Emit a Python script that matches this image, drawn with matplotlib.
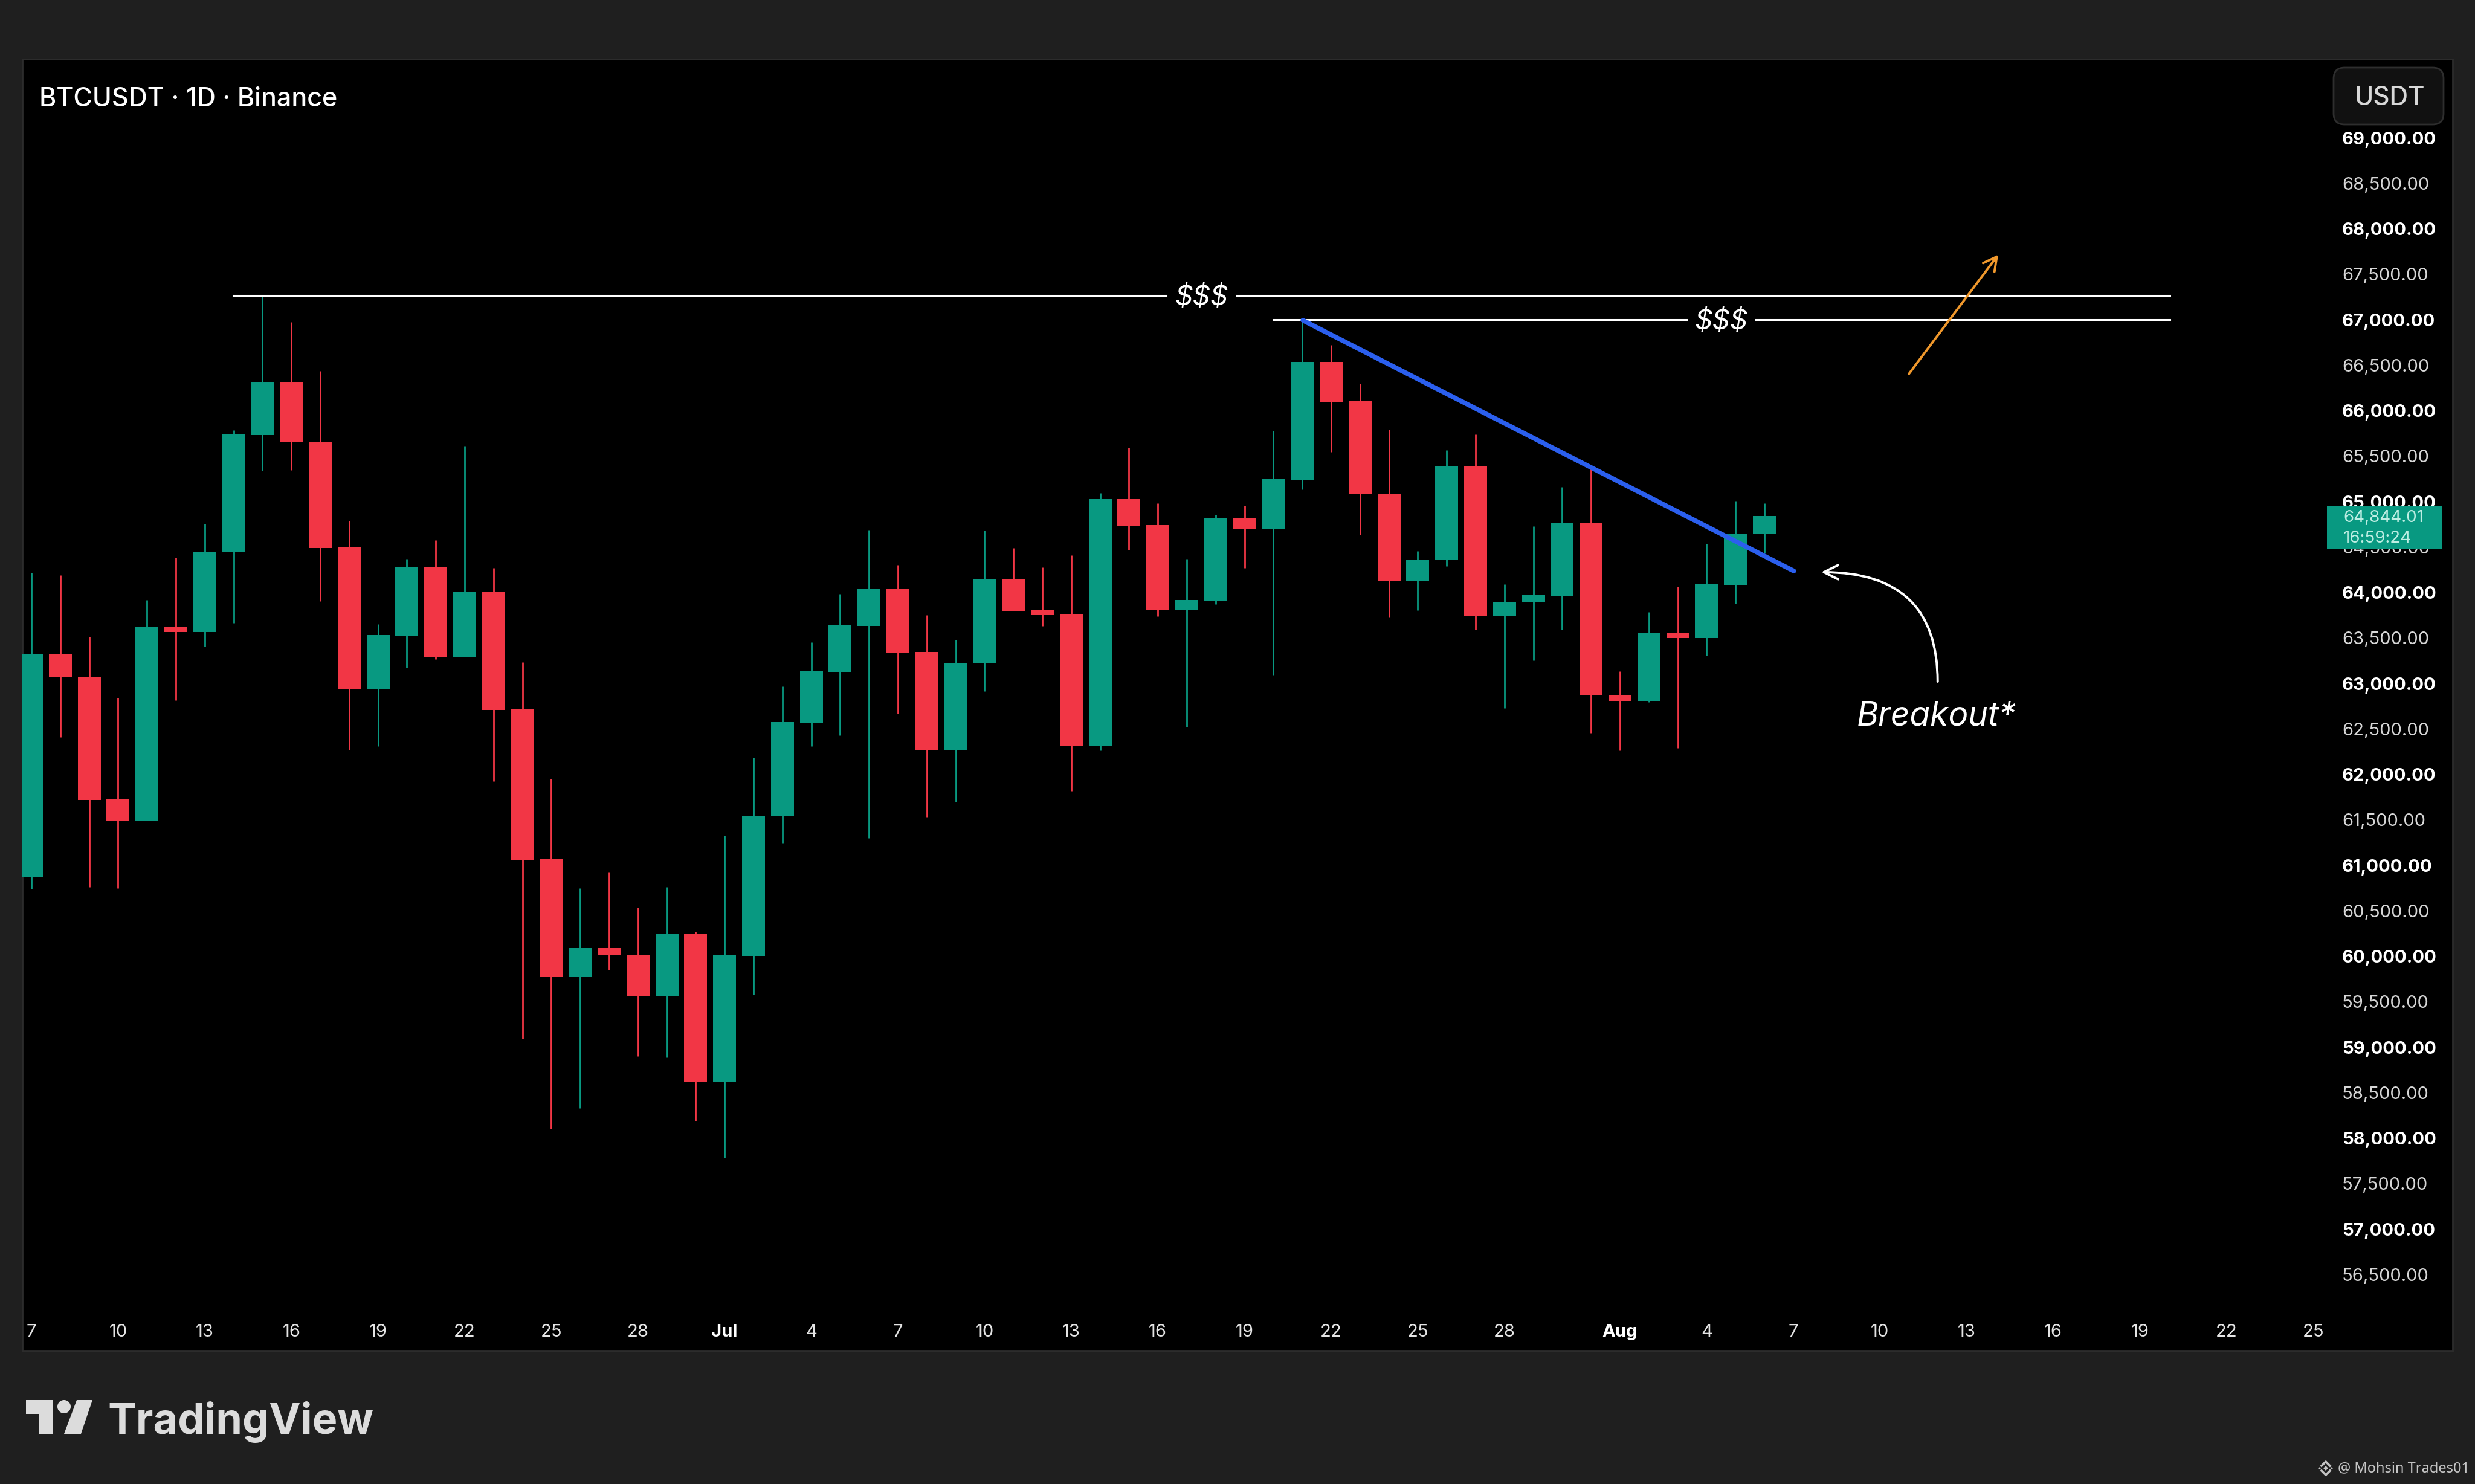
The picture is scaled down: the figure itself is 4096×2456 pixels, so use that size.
import numpy as np
import matplotlib
matplotlib.use('Agg')
import matplotlib.pyplot as plt
from matplotlib.patches import Polygon, Circle, FancyBboxPatch, Rectangle

# --------------- Data ---------------
opens = [60867, 63319, 63073, 61731, 61492, 63618, 63565, 64442, 65731, 66316,
         65658, 64495, 62940, 63525, 64282, 63292, 64003, 62718, 61066, 59771,
         60090, 60017, 59558, 60249, 58615, 60003, 61545, 62568, 63126, 63631,
         64037, 63346, 62263, 63219, 64150, 63804, 63764, 62309, 65030, 64741,
         63811, 63910, 64814, 64704, 65239, 66538, 66103, 65086, 64123, 64356,
         65385, 63738, 63890, 63963, 64768, 62874, 62807, 63558, 63498, 64083,
         64641]
highs = [64213, 64189, 63512, 62841, 63917, 64382, 64754, 65784, 67259, 66973,
         66435, 64787, 63651, 64372, 64575, 65611, 64269, 63233, 61950, 60748,
         60927, 60532, 60761, 60269, 61326, 62183, 62967, 63452, 63983, 64691,
         64302, 63751, 63479, 64681, 64488, 64276, 64409, 65093, 65591, 64980,
         64372, 64854, 64954, 65777, 67000, 66721, 66296, 65791, 64455, 65565,
         65738, 64090, 64728, 65162, 65356, 63133, 63784, 64063, 64535, 65009,
         64980]
lows = [60741, 62409, 60761, 60748, 61492, 62814, 63405, 63664, 65339, 65346,
        63904, 62269, 62309, 63173, 63266, 63292, 61924, 59093, 58103, 58329,
        59851, 58900, 58887, 58189, 57784, 59578, 61246, 62309, 62429, 61299,
        62668, 61532, 61698, 62914, 63797, 63631, 61817, 62263, 64469, 63738,
        62525, 63870, 64269, 63093, 65133, 65542, 64635, 63731, 63804, 64289,
        63591, 62728, 63253, 63591, 62455, 62263, 62794, 62289, 63306, 63874,
        64435]
closes = [63319, 63066, 61718, 61492, 63618, 63565, 64449, 65738, 66316, 65651,
          64488, 62940, 63532, 64282, 63292, 64003, 62711, 61053, 59771, 60090,
          60010, 59558, 60249, 58615, 60010, 61548, 62575, 63133, 63638, 64037,
          63339, 62263, 63219, 64150, 63797, 63758, 62316, 65030, 64734, 63811,
          63917, 64814, 64704, 65246, 66538, 66096, 65086, 64123, 64359, 65385,
          63738, 63897, 63970, 64768, 62864, 62807, 63558, 63498, 64090, 64648,
          64844]

x_ticks = [0, 3, 6, 9, 12, 15, 18, 21, 24, 27, 30, 33, 36, 39, 42, 45, 48, 51, 55,
           58, 61, 64, 67, 70, 73, 76, 79]
x_labels = ['7', '10', '13', '16', '19', '22', '25', '28', 'Jul', '4', '7', '10', '13',
            '16', '19', '22', '25', '28', 'Aug', '4', '7', '10', '13', '16', '19', '22', '25']
y_ticks = [56500, 57000, 57500, 58000, 58500, 59000, 59500, 60000, 60500, 61000, 61500,
           62000, 62500, 63000, 63500, 64000, 64500, 65000, 65500, 66000, 66500, 67000,
           67500, 68000, 68500, 69000]

level_high = 67266
level_low = 67000
trend_x = [44.02, 61.02]
trend_y = [66993, 64236]

# --------------- Colours ---------------
BG = '#1f1f1f'
GREEN = '#089981'
RED = '#f23645'
BLUE = '#2b5fee'
ORANGE = '#f0982c'
FONT = 'Inter'

W, H = 4096, 2456
fig = plt.figure(figsize=(W / 100, H / 100), dpi=100, facecolor=BG)

# panel position in pixels
left, right, top, bottom = 37, 4059, 98, 2236
ax = fig.add_axes([left / W, 1 - bottom / H, (right - left) / W, (bottom - top) / H], facecolor='black')
ax.set_xlim(-0.314, 83.83)
ax.set_ylim(55658, 69864)
for s in ax.spines.values():
    s.set_color('#2c2c2c')
    s.set_linewidth(2)

# --------------- Candles ---------------
days = np.arange(len(opens))
o = np.array(opens)
c = np.array(closes)
colors = [GREEN if b >= a else RED for a, b in zip(o, c)]
ax.vlines(days, lows, highs, colors=colors, linewidth=2, zorder=2)
ax.bar(days, np.abs(c - o), bottom=np.minimum(o, c), width=0.795, color=colors, linewidth=0, zorder=3)

# --------------- Axes labels ---------------
ax.yaxis.tick_right()
ax.set_yticks(y_ticks)
ax.set_yticklabels([f'{v:,.2f}' for v in y_ticks], fontsize=21, family=FONT)
ax.tick_params(axis='y', length=0, pad=-131.7)
for v, lab in zip(y_ticks, ax.get_yticklabels()):
    lab.set_ha('left')
    if v % 1000 == 0:
        lab.set_fontweight('bold')
        lab.set_color('white')
    else:
        lab.set_color('#d6d6d6')

ax.set_xticks(x_ticks)
ax.set_xticklabels(x_labels, fontsize=21, family=FONT, color='#e4e4e4')
ax.tick_params(axis='x', length=0, pad=-23)
for t, lab in zip(x_labels, ax.get_xticklabels()):
    lab.set_va('center')
    if t in ('Jul', 'Aug'):
        lab.set_fontweight('bold')
        lab.set_color('white')

# --------------- Drawings ---------------
ax.plot([6.99, 39.29], [level_high, level_high], color='white', lw=2.2, zorder=4)
ax.plot([41.74, 74.04], [level_high, level_high], color='white', lw=2.2, zorder=4)
ax.plot([42.99, 57.3], [level_low, level_low], color='white', lw=2.2, zorder=4)
ax.plot([59.7, 74.04], [level_low, level_low], color='white', lw=2.2, zorder=4)
ax.text(40.52, level_high - 20, '$$$', color='white', fontsize=33, style='italic', family=FONT,
        ha='center', va='center', parse_math=False)
ax.text(58.5, level_low - 20, '$$$', color='white', fontsize=33, style='italic', family=FONT,
        ha='center', va='center', parse_math=False)

ax.plot(trend_x, trend_y, color=BLUE, lw=5.6, solid_capstyle='round', zorder=5)

ax.annotate('', xy=(68.1, 67715), xytext=(65.0, 66402), zorder=5,
            arrowprops=dict(arrowstyle='->,head_length=16,head_width=8.5', color=ORANGE, lw=2.8,
                            mutation_scale=1, shrinkA=0, shrinkB=0))
ax.annotate('', xy=(61.97, 64223), xytext=(66.0, 63020), zorder=5,
            arrowprops=dict(arrowstyle='->,head_length=17,head_width=8.5', color='white', lw=2.8,
                            mutation_scale=1, shrinkA=0, shrinkB=0,
                            connectionstyle='angle3,angleA=90,angleB=0'))
ax.text(65.95, 62635, 'Breakout*', color='white', fontsize=39.6, style='italic', family=FONT,
        ha='center', va='center')

# --------------- Overlay in pixel coordinates ---------------
ov = fig.add_axes([0, 0, 1, 1], facecolor='none')
ov.set_xlim(0, W)
ov.set_ylim(H, 0)
ov.axis('off')

ov.text(65, 165, 'BTCUSDT · 1D · Binance', color='white', fontsize=31, family=FONT, fontweight='medium', va='center')

ov.add_patch(FancyBboxPatch((3874, 124), 158, 70, boxstyle='round,pad=12,rounding_size=18',
                            facecolor='#111111', edgecolor='#2e2e2e', linewidth=2))
ov.text(3955, 162, 'USDT', color='#d8d8d8', fontsize=30.5, family=FONT, fontweight='medium', ha='center', va='center')

ov.add_patch(Rectangle((3851, 838), 191, 71, facecolor=GREEN, linewidth=0))
ov.text(3878, 857, '64,844.01', color='#bdeee3', fontsize=20, family=FONT, va='center')
ov.text(3878, 891, '16:59:24', color='#bdeee3', fontsize=20, family=FONT, va='center')

# TradingView logo
LOGO = '#dcdcdc'
ov.add_patch(Polygon([(43, 2317), (88, 2317), (88, 2373), (65, 2373), (65, 2340), (43, 2340)],
                     facecolor=LOGO, linewidth=0))
ov.add_patch(Circle((106, 2328), 11, facecolor=LOGO, linewidth=0))
ov.add_patch(Polygon([(127, 2317), (153, 2317), (134, 2373), (106, 2373)], facecolor=LOGO, linewidth=0))
ov.text(178, 2373, 'TradingView', color=LOGO, fontsize=50.5, family=FONT, fontweight='bold', va='baseline')

# watermark
ov.text(3869, 2430, '@ Mohsin Trades01', color='#c4c4c4', fontsize=17, family='Noto Sans', va='center')
for cx, cy, r in [(3849, 2430, 4), (3839, 2430, 2), (3859, 2430, 2)]:
    ov.add_patch(Polygon([(cx - r, cy), (cx, cy - r), (cx + r, cy), (cx, cy + r)], facecolor='#c4c4c4', linewidth=0))
ov.plot([3842, 3849, 3856], [2426, 2419, 2426], color='#c4c4c4', lw=2.6)
ov.plot([3842, 3849, 3856], [2434, 2441, 2434], color='#c4c4c4', lw=2.6)

fig.savefig('out.png', dpi=100, facecolor=BG)
